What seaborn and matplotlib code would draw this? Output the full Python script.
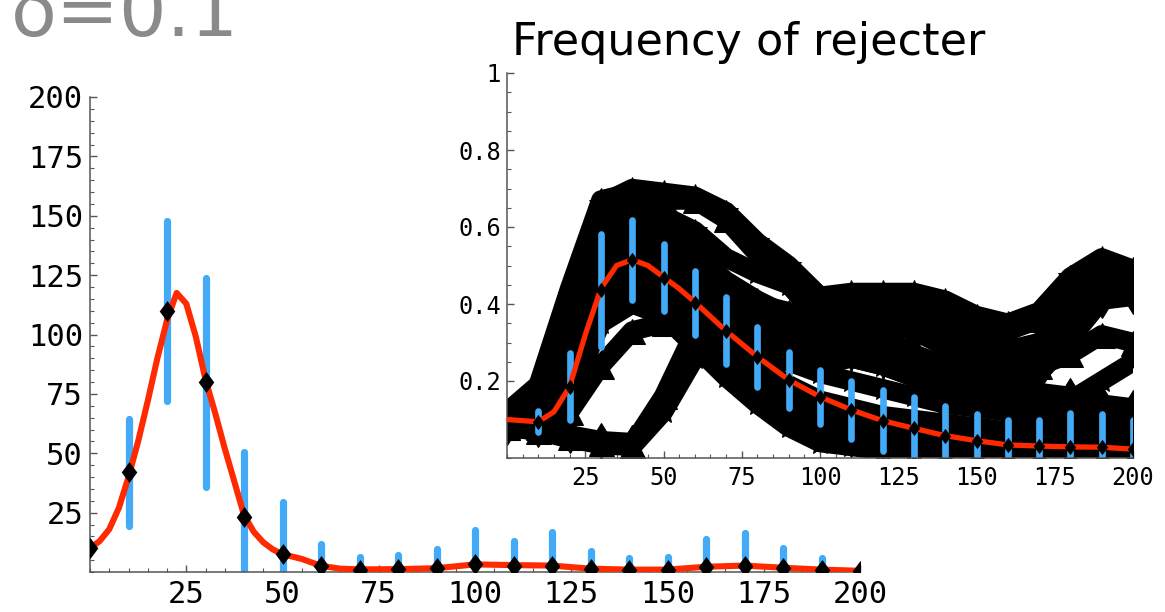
import numpy as np
import matplotlib
matplotlib.use("Agg")
import matplotlib.pyplot as plt
from matplotlib.path import Path
from matplotlib.ticker import FixedLocator, FixedFormatter, MultipleLocator
import seaborn as sns

# ---------------- data ----------------
# main panel: number of rejecters, sampled every 10 steps
steps = [0, 10, 20, 30, 40, 50, 60, 70, 80, 90, 100,
         110, 120, 130, 140, 150, 160, 170, 180, 190, 200]
count_mean = [10, 42, 110, 80, 23, 7.5, 2.5, 1.0, 1.3, 1.7, 3.2,
              2.7, 2.7, 1.3, 0.9, 0.9, 2.2, 2.7, 1.7, 0.9, 0.5]
count_sd = [0, 22.5, 38, 44, 27.5, 22, 9.3, 5.2, 5.7, 7.9, 14.4,
            10.5, 14.0, 7.6, 5.0, 5.4, 11.7, 13.7, 8.3, 5.1, 0]

# smoothed count curve
curve_t = [0, 2.5, 5, 7.5, 10, 12.5, 15, 17.5, 20, 22.5, 25, 27.5, 30,
           32.5, 35, 37.5, 40, 42.5, 45, 47.5, 50, 55, 60, 65, 70, 80,
           90, 100, 110, 120, 130, 140, 150, 160, 170, 180, 190, 200]
curve_count = [10, 13, 18, 27, 40, 55, 72, 90, 106, 117.5, 113, 99, 81,
               67, 52, 38, 24, 17, 12.5, 9.5, 7.5, 5.5, 2.6, 1.4, 1.1, 1.2,
               1.6, 3.2, 2.9, 2.7, 1.4, 1.0, 1.0, 2.2, 2.7, 1.8, 1.0, 0.5]

# inset: frequency of rejecter
freq_steps = [10, 20, 30, 40, 50, 60, 70, 80, 90, 100,
              110, 120, 130, 140, 150, 160, 170, 180, 190, 200]
freq_mean = [0.094, 0.185, 0.436, 0.514, 0.468, 0.403, 0.330, 0.263, 0.203, 0.159,
             0.125, 0.097, 0.077, 0.058, 0.045, 0.034, 0.031, 0.029, 0.028, 0.023]
freq_sd = [0.027, 0.087, 0.147, 0.104, 0.087, 0.083, 0.087, 0.078, 0.073, 0.070,
           0.075, 0.080, 0.081, 0.077, 0.068, 0.065, 0.069, 0.087, 0.085, 0.077]

freq_curve_t = [0, 5, 10, 15, 20, 25, 30, 35, 40, 45, 50, 55, 60, 70, 80, 90,
                100, 110, 120, 130, 140, 150, 160, 170, 180, 190, 200]
freq_curve = [0.100, 0.097, 0.094, 0.120, 0.185, 0.32, 0.44, 0.50, 0.515, 0.50,
              0.47, 0.44, 0.405, 0.330, 0.263, 0.203, 0.159, 0.125, 0.097, 0.077,
              0.058, 0.045, 0.034, 0.031, 0.029, 0.028, 0.023]

# individual runs (frequency every 10 steps)
run_freqs = [
    [0.11, 0.18, 0.42, 0.66, 0.70, 0.69, 0.68, 0.64, 0.56, 0.50, 0.42, 0.43, 0.43, 0.43, 0.41, 0.37, 0.35, 0.38, 0.47, 0.52, 0.49],
    [0.12, 0.19, 0.44, 0.67, 0.69, 0.67, 0.67, 0.62, 0.53, 0.48, 0.40, 0.41, 0.41, 0.41, 0.40, 0.36, 0.33, 0.36, 0.44, 0.50, 0.47],
    [0.11, 0.17, 0.40, 0.64, 0.68, 0.63, 0.59, 0.52, 0.48, 0.45, 0.36, 0.38, 0.39, 0.38, 0.35, 0.31, 0.28, 0.30, 0.38, 0.45, 0.46],
    [0.10, 0.15, 0.36, 0.60, 0.64, 0.60, 0.53, 0.46, 0.41, 0.37, 0.33, 0.35, 0.35, 0.33, 0.30, 0.27, 0.25, 0.24, 0.27, 0.32, 0.30],
    [0.10, 0.13, 0.32, 0.56, 0.60, 0.55, 0.48, 0.41, 0.35, 0.31, 0.28, 0.30, 0.28, 0.25, 0.22, 0.20, 0.18, 0.17, 0.16, 0.14, 0.13],
    [0.09, 0.12, 0.30, 0.53, 0.58, 0.53, 0.46, 0.38, 0.32, 0.28, 0.25, 0.26, 0.24, 0.21, 0.19, 0.17, 0.16, 0.15, 0.13, 0.12, 0.11],
    [0.09, 0.11, 0.28, 0.50, 0.55, 0.50, 0.43, 0.35, 0.29, 0.25, 0.22, 0.20, 0.18, 0.16, 0.14, 0.13, 0.12, 0.11, 0.10, 0.10, 0.09],
    [0.09, 0.10, 0.24, 0.45, 0.50, 0.45, 0.38, 0.30, 0.24, 0.19, 0.15, 0.13, 0.11, 0.10, 0.09, 0.08, 0.07, 0.07, 0.06, 0.06, 0.05],
    [0.08, 0.09, 0.20, 0.40, 0.45, 0.41, 0.33, 0.25, 0.18, 0.13, 0.09, 0.07, 0.06, 0.05, 0.04, 0.04, 0.03, 0.03, 0.03, 0.03, 0.03],
    [0.08, 0.09, 0.18, 0.38, 0.43, 0.39, 0.31, 0.23, 0.16, 0.11, 0.07, 0.05, 0.04, 0.04, 0.03, 0.03, 0.02, 0.02, 0.02, 0.02, 0.02],
    [0.08, 0.08, 0.16, 0.35, 0.40, 0.37, 0.29, 0.21, 0.14, 0.08, 0.04, 0.03, 0.02, 0.02, 0.02, 0.02, 0.01, 0.01, 0.01, 0.01, 0.01],
    [0.08, 0.08, 0.12, 0.24, 0.33, 0.35, 0.33, 0.27, 0.21, 0.16, 0.12, 0.10, 0.08, 0.07, 0.06, 0.05, 0.05, 0.04, 0.04, 0.04, 0.04],
    [0.085, 0.075, 0.06, 0.045, 0.04, 0.14, 0.30, 0.36, 0.36, 0.33, 0.31, 0.33, 0.31, 0.27, 0.24, 0.21, 0.20, 0.22, 0.31, 0.41, 0.42],
    [0.08, 0.07, 0.055, 0.04, 0.035, 0.16, 0.33, 0.40, 0.40, 0.38, 0.36, 0.38, 0.37, 0.33, 0.29, 0.26, 0.24, 0.27, 0.36, 0.44, 0.45],
    [0.08, 0.07, 0.05, 0.035, 0.03, 0.12, 0.26, 0.30, 0.28, 0.25, 0.24, 0.26, 0.24, 0.21, 0.18, 0.16, 0.14, 0.13, 0.15, 0.20, 0.25],
]
run_markers = ["*", "^", "*", "^", "d", "v", "*", "^", "v", "d", "*", "^", "d", "^", "*"]

main_xticks = [25, 50, 75, 100, 125, 150, 175, 200]
main_yticks = [25, 50, 75, 100, 125, 150, 175, 200]
inset_xticks = [25, 50, 75, 100, 125, 150, 175, 200]
inset_yticks = [0.2, 0.4, 0.6, 0.8, 1.0]
inset_ylabels = ["0.2", "0.4", "0.6", "0.8", "1"]

# ---------------- style ----------------
sns.set_style("ticks")
plt.rcParams["font.family"] = ["DejaVu Sans Mono", "DejaVu Sans"]

BLUE = "#42AAF6"
RED = "#FF2A00"
AXIS_GRAY = "#555555"
diamond = Path([(0, 1), (0.75, 0), (0, -1), (-0.75, 0), (0, 1)],
               [Path.MOVETO, Path.LINETO, Path.LINETO, Path.LINETO, Path.CLOSEPOLY])


def style_axes(ax, fontsize):
    sns.despine(ax=ax)
    for side in ("left", "bottom"):
        ax.spines[side].set_color(AXIS_GRAY)
        ax.spines[side].set_linewidth(1.1)
    ax.tick_params(which="both", direction="in", color=AXIS_GRAY,
                   labelsize=fontsize, labelcolor="black")
    ax.tick_params(which="major", length=5, width=1)
    ax.tick_params(which="minor", length=3, width=0.8)
    ax.set_facecolor("white")


fig = plt.figure(figsize=(11.65, 6.12), dpi=100)

# ---------------- main panel ----------------
ax = fig.add_axes([90 / 1165, 40 / 612, 770 / 1165, 475 / 612])
steps_a = np.array(steps)
mean_a = np.array(count_mean)
sd_a = np.array(count_sd)
has_sd = sd_a > 0
eb = ax.errorbar(steps_a[has_sd], mean_a[has_sd], yerr=sd_a[has_sd], fmt="none",
                 ecolor=BLUE, elinewidth=5.2, capsize=0, zorder=2)
eb.lines[2][0].set_capstyle("round")
sns.lineplot(x=curve_t, y=curve_count, ax=ax, color=RED, lw=4.4,
             sort=False, zorder=3)
ax.lines[-1].set_solid_capstyle("round")
sns.scatterplot(x=steps, y=count_mean, ax=ax, marker=diamond, s=15 ** 2,
                color="black", linewidth=0, zorder=4)

ax.set_xlim(0, 200)
ax.set_ylim(0, 200)
ax.xaxis.set_major_locator(FixedLocator(main_xticks))
ax.yaxis.set_major_locator(FixedLocator(main_yticks))
ax.xaxis.set_minor_locator(MultipleLocator(5))
ax.yaxis.set_minor_locator(MultipleLocator(5))
style_axes(ax, 22)
ax.tick_params(axis="x", which="major", pad=6)
ax.tick_params(axis="y", which="major", pad=5)
ax.set_xlabel("")
ax.set_ylabel("")

# ---------------- inset ----------------
axi = fig.add_axes([507 / 1165, 154 / 612, 626 / 1165, 385 / 612])
for run, mk in zip(run_freqs, run_markers):
    sns.lineplot(x=steps, y=run, ax=axi, color="black", lw=14, marker=mk,
                 markersize=18, markeredgecolor="black", sort=False, zorder=1)
ebi = axi.errorbar(freq_steps, freq_mean, yerr=freq_sd, fmt="none",
                   ecolor=BLUE, elinewidth=4.8, capsize=0, zorder=2)
ebi.lines[2][0].set_capstyle("round")
sns.lineplot(x=freq_curve_t, y=freq_curve, ax=axi, color=RED, lw=3.8,
             sort=False, zorder=3)
sns.scatterplot(x=freq_steps, y=freq_mean, ax=axi, marker=diamond, s=11 ** 2,
                color="black", linewidth=0, zorder=4)

axi.set_xlim(0, 200)
axi.set_ylim(0, 1)
axi.xaxis.set_major_locator(FixedLocator(inset_xticks))
axi.yaxis.set_major_locator(FixedLocator(inset_yticks))
axi.yaxis.set_major_formatter(FixedFormatter(inset_ylabels))
axi.xaxis.set_minor_locator(MultipleLocator(5))
axi.yaxis.set_minor_locator(MultipleLocator(0.05))
style_axes(axi, 17)
axi.tick_params(axis="x", which="major", pad=6)
axi.tick_params(axis="y", which="major", pad=4)
axi.set_xlabel("")
axi.set_ylabel("")
fig.canvas.draw()
for lbl in axi.get_yticklabels():
    if lbl.get_text() == "1":
        lbl.set_fontfamily("DejaVu Sans")

fig.text(512 / 1165, 1 - 55 / 612, "Frequency of rejecter", fontsize=32,
         family="DejaVu Sans", va="baseline", ha="left", color="black")

# parameter label in the corner
fig.text(11 / 1165, 1 - 36 / 612, "δ=0.1", fontsize=54, family="DejaVu Sans",
         color="#8a8a8a", va="baseline", ha="left")

fig.savefig("out.png", dpi=100, facecolor="white")
